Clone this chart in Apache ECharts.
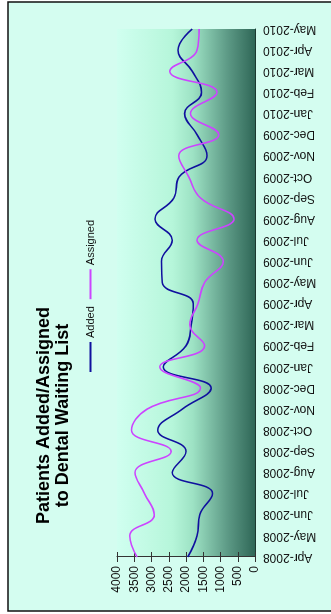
<!DOCTYPE html>
<html>
<head>
<meta charset="utf-8">
<script src="https://cdn.jsdelivr.net/npm/echarts@6/dist/echarts.min.js"></script>
<style>
  html, body { margin: 0; padding: 0; background: #fff; overflow: hidden; }
  /* chart drawn in landscape, then turned a quarter to fit the portrait window */
  #chart {
    position: absolute; left: 0; top: 0;
    width: 614px; height: 331px;
    transform-origin: 0 0;
    transform: translateY(614px) rotate(-90deg);
  }
</style>
</head>
<body>
<div id="chart"></div>
<script>
// months shown on the category axis
var months = ['Apr-2008', 'May-2008', 'Jun-2008', 'Jul-2008', 'Aug-2008', 'Sep-2008',
  'Oct-2008', 'Nov-2008', 'Dec-2008', 'Jan-2009', 'Feb-2009', 'Mar-2009', 'Apr-2009',
  'May-2009', 'Jun-2009', 'Jul-2009', 'Aug-2009', 'Sep-2009', 'Oct-2009', 'Nov-2009',
  'Dec-2009', 'Jan-2010', 'Feb-2010', 'Mar-2010', 'Apr-2010', 'May-2010'];

// patients added to the list each month
var added = [1950, 1680, 1600, 1230, 2400, 2000, 2820, 2110, 1270, 2660, 2000, 1850, 1790,
  2690, 2710, 2400, 2900, 2350, 2200, 1390, 1680, 2040, 1550, 1820, 2230, 1820];

// patients assigned from the list each month
var assigned = [3420, 3630, 2920, 3200, 3480, 2430, 3580, 3130, 1580, 2760, 1460, 1890, 1650,
  1460, 920, 1680, 610, 1580, 1920, 2210, 1050, 1870, 1100, 2470, 1680, 1620];

var valueTicks = { min: 0, max: 4000, step: 500 };

var chart = echarts.init(document.getElementById('chart'));

var valueAxisBase = {
  type: 'value',
  min: valueTicks.min,
  max: valueTicks.max,
  interval: valueTicks.step,
  splitLine: { show: false }
};

var option = {
  animation: false,
  backgroundColor: '#ffffff',
  textStyle: { fontFamily: 'Liberation Sans, Arial, sans-serif' },
  graphic: [{
    // outer frame
    type: 'rect',
    z: -10,
    shape: { x: 3, y: 8, width: 609, height: 330 },
    style: { fill: '#d4fdf0', stroke: '#111', lineWidth: 1.5 }
  }],
  title: {
    text: 'Patients Added/Assigned\nto Dental Waiting List',
    left: 'center',
    top: 30,
    textAlign: 'center',
    textStyle: { fontSize: 18, fontWeight: 'bold', color: '#000', lineHeight: 19 }
  },
  legend: {
    data: ['Added', 'Assigned'],
    left: 237,
    top: 80,
    icon: 'rect',
    itemWidth: 30,
    itemHeight: 2,
    itemGap: 7,
    textStyle: { fontSize: 11, color: '#111', padding: [0, 0, 0, -1] }
  },
  grid: {
    left: 57,
    right: 29,
    top: 117,
    bottom: 76,
    show: true,
    borderWidth: 0,
    backgroundColor: {
      type: 'linear', x: 0, y: 0, x2: 0, y2: 1,
      colorStops: [
        { offset: 0, color: '#d0fff0' },
        { offset: 0.4, color: '#b6f6da' },
        { offset: 0.55, color: '#9de2c4' },
        { offset: 0.8, color: '#5d9a86' },
        { offset: 1, color: '#2f6757' }
      ]
    }
  },
  xAxis: {
    type: 'category',
    data: months,
    boundaryGap: false,
    axisLine: { lineStyle: { color: '#1c3a31', width: 1 } },
    axisTick: { show: false },
    axisLabel: { rotate: 90, interval: 0, fontSize: 12, color: '#111', margin: 8 }
  },
  yAxis: [Object.assign({}, valueAxisBase, {
    axisLine: { show: true, lineStyle: { color: '#333' } },
    axisTick: { show: true, length: 5, lineStyle: { color: '#333' } },
    axisLabel: { fontSize: 12, color: '#111', margin: 9, formatter: function (v) { return String(v); } }
  }), Object.assign({}, valueAxisBase, {
    // inner half of the crossing ticks
    position: 'left',
    axisLine: { show: false },
    axisTick: { show: true, inside: true, length: 5, lineStyle: { color: '#333' } },
    axisLabel: { show: false }
  })],
  series: [{
    name: 'Added',
    type: 'line',
    data: added,
    smooth: 0.45,
    symbol: 'none',
    lineStyle: { color: '#10109e', width: 1.6 },
    itemStyle: { color: '#10109e' }
  }, {
    name: 'Assigned',
    type: 'line',
    data: assigned,
    smooth: 0.45,
    symbol: 'none',
    lineStyle: { color: '#cc44ff', width: 1.6 },
    itemStyle: { color: '#cc44ff' }
  }]
};

chart.setOption(option);
</script>
</body>
</html>
